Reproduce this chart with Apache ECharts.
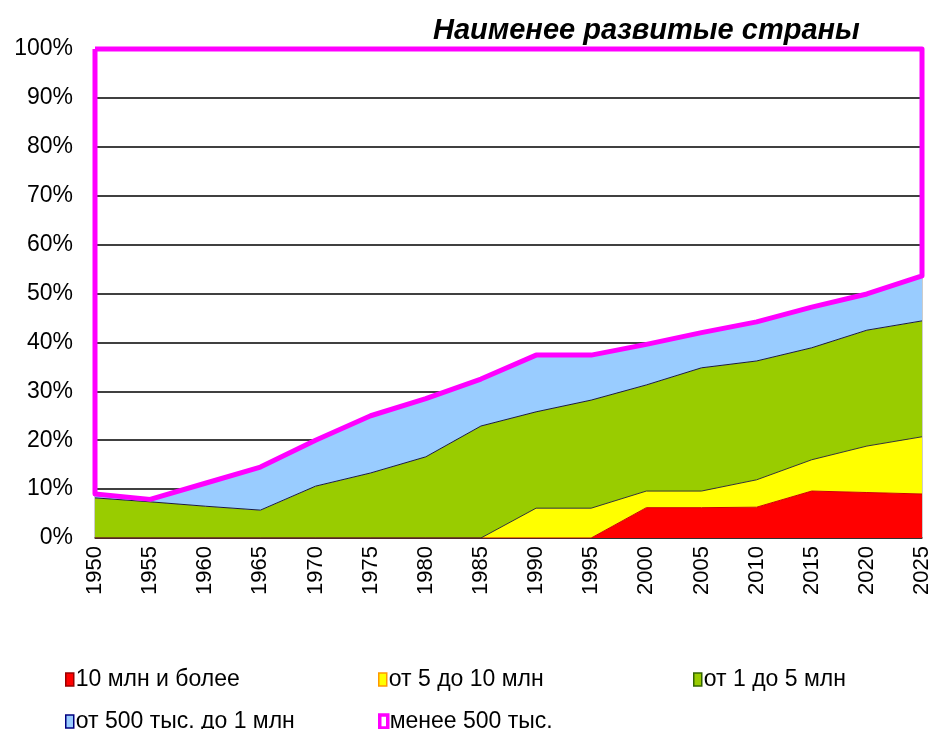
<!DOCTYPE html>
<html>
<head>
<meta charset="utf-8">
<title>Наименее развитые страны</title>
<script src="https://cdn.jsdelivr.net/npm/echarts@6/dist/echarts.min.js"></script>
<style>
  html, body { margin: 0; padding: 0; background: #fff; }
  #chartmain { width: 933px; height: 729px; }
</style>
</head>
<body>
<div id="chartmain"></div>
<script>
// годы
var years = ['1950', '1955', '1960', '1965', '1970', '1975', '1980', '1985',
  '1990', '1995', '2000', '2005', '2010', '2015', '2020', '2025'];
// доли населения по размеру городов, %
var big10 = [0, 0, 0, 0, 0, 0, 0, 0, 0, 0, 6.2, 6.2, 6.3, 9.6, 9.3, 9.0];
var from5to10 = [0, 0, 0, 0, 0, 0, 0, 0, 6.1, 6.1, 3.4, 3.4, 5.6, 6.4, 9.5, 11.7];
var from1to5 = [8.2, 7.4, 6.5, 5.7, 10.6, 13.3, 16.6, 22.9, 19.7, 22.1, 21.7, 25.2, 24.3, 22.9, 23.7, 23.7];
var from500to1 = [0.8, 0.5, 4.7, 8.8, 9.4, 11.7, 11.9, 9.6, 11.6, 9.2, 8.3, 7.2, 8.0, 8.3, 7.4, 9.2];
var under500 = [91.0, 92.1, 88.8, 85.5, 80.0, 75.0, 71.5, 67.5, 62.6, 62.6, 60.4, 58.0, 55.8, 52.8, 50.1, 46.4];
var yTicks = ['0%', '10%', '20%', '30%', '40%', '50%', '60%', '70%', '80%', '90%', '100%'];

var names = ['10 млн и более', 'от 5 до 10 млн', 'от 1 до 5 млн', 'от 500 тыс. до 1 млн', 'менее 500 тыс.'];
var font = "'Liberation Sans', Arial, sans-serif";

// контур области "менее 500 тыс." (строим из накопленных сумм)
var lower = [], upper = [];
for (var i = 0; i < years.length; i++) {
  var s = big10[i] + from5to10[i] + from1to5[i] + from500to1[i];
  lower.push(s);
  upper.push(s + under500[i]);
}
var outline = [[0, upper[0]]];
for (var i = 0; i < years.length; i++) outline.push([i, lower[i]]);
for (var i = years.length - 1; i >= 0; i--) outline.push([i, upper[i]]);

function area(name, data, fill, edge) {
  return {
    name: name,
    type: 'line',
    stack: 'total',
    data: data,
    symbol: 'none',
    lineStyle: { color: edge, width: 1 },
    itemStyle: { color: fill, borderColor: edge },
    areaStyle: { color: fill, opacity: 1 }
  };
}

function legendAt(left, top, name, fill, edge, bw) {
  return {
    left: left, top: top,
    itemWidth: 8, itemHeight: 13, itemGap: 0,
    icon: 'rect',
    textStyle: { fontFamily: font, fontSize: 23, color: '#000', padding: [0, 0, 0, -3] },
    data: [{ name: name, icon: 'rect', itemStyle: { color: fill, borderColor: edge, borderWidth: bw } }]
  };
}

var option = {
  animation: false,
  backgroundColor: '#fff',
  title: {
    text: 'Наименее развитые страны',
    left: 428, top: 11,
    textStyle: { fontFamily: font, fontSize: 29, fontWeight: 'bold', fontStyle: 'italic', color: '#000' }
  },
  legend: [
    legendAt(60, 663, names[0], '#ff0000', '#990000', 1.5),
    legendAt(373, 663, names[1], '#ffff00', '#ff9900', 1.5),
    legendAt(688, 663, names[2], '#99cc00', '#336600', 1.5),
    legendAt(60, 705, names[3], '#99ccff', '#000080', 1.5),
    legendAt(373, 705, names[4], '#ffffff', '#ff00ff', 3.5)
  ],
  grid: { left: 95, right: 11, top: 49, bottom: 191, show: true, borderColor: '#999', borderWidth: 1 },
  xAxis: {
    type: 'category',
    data: years,
    boundaryGap: false,
    axisLine: { lineStyle: { color: '#333', width: 1.5 } },
    axisTick: { show: false },
    axisLabel: { rotate: 90, margin: 8, fontFamily: font, fontSize: 22, color: '#000' }
  },
  yAxis: {
    type: 'value',
    min: 0, max: 100, interval: 10,
    axisLine: { show: false },
    axisTick: { show: false },
    splitLine: { lineStyle: { color: '#000', width: 1.5 } },
    axisLabel: {
      margin: 22, fontFamily: font, fontSize: 23, color: '#000',
      formatter: function (v) { return yTicks[Math.round(v / 10)]; }
    }
  },
  series: [
    area(names[0], big10, '#ff0000', '#cc0000'),
    area(names[1], from5to10, '#ffff00', '#333333'),
    area(names[2], from1to5, '#99cc00', '#1a1a40'),
    area(names[3], from500to1, '#99ccff', '#000080'),
    {
      name: names[4],
      type: 'line',
      data: outline,
      symbol: 'none',
      clip: false,
      z: 5,
      itemStyle: { color: '#ffffff', borderColor: '#ff00ff' },
      lineStyle: { color: '#ff00ff', width: 5, join: 'round' }
    }
  ]
};

var myChart = echarts.init(document.getElementById('chartmain'));
myChart.setOption(option);
</script>
</body>
</html>
